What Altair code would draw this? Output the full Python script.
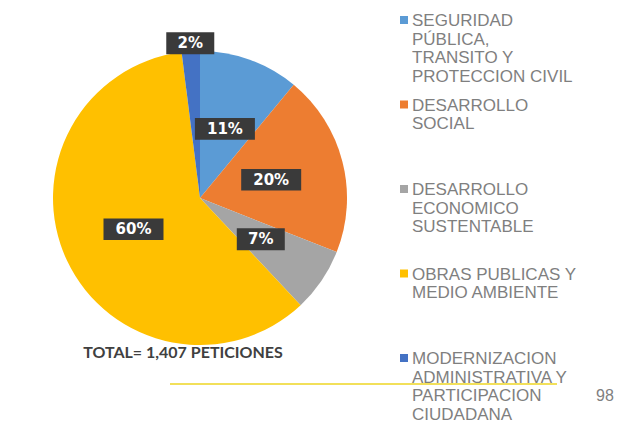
import altair as alt
import pandas as pd

# ---- data ----
categories = [
    "SEGURIDAD PÚBLICA, TRANSITO Y PROTECCION CIVIL",
    "DESARROLLO SOCIAL",
    "DESARROLLO ECONOMICO SUSTENTABLE",
    "OBRAS PUBLICAS Y MEDIO AMBIENTE",
    "MODERNIZACION ADMINISTRATIVA Y PARTICIPACION CIUDADANA",
]
percentages = [11, 20, 7, 60, 2]
legend_lines = [
    ["SEGURIDAD", "PÚBLICA,", "TRANSITO Y", "PROTECCION CIVIL"],
    ["DESARROLLO", "SOCIAL"],
    ["DESARROLLO", "ECONOMICO", "SUSTENTABLE"],
    ["OBRAS PUBLICAS Y", "MEDIO AMBIENTE"],
    ["MODERNIZACION", "ADMINISTRATIVA Y", "PARTICIPACION", "CIUDADANA"],
]
colors = ["#5B9BD5", "#ED7D31", "#A5A5A5", "#FFC000", "#4472C4"]
total_text = "TOTAL= 1,407 PETICIONES"
page_number = "98"

df = pd.DataFrame({
    "cat": categories,
    "pct": percentages,
    "idx": list(range(len(categories))),
    "legend": ["\n".join(l) for l in legend_lines],
})

CX, CY, R = 192, 190, 147
color_scale = alt.Scale(domain=categories, range=colors)
base = alt.Chart(df)

pie = base.mark_arc(outerRadius=R).encode(
    theta=alt.Theta("pct:Q", stack=True),
    color=alt.Color("cat:N", scale=color_scale, legend=None),
    order=alt.Order("idx:Q"),
    x=alt.value(CX),
    y=alt.value(CY),
)

lab = base.transform_joinaggregate(total="sum(pct)").transform_window(
    cum="sum(pct)", sort=[alt.SortField("idx")], frame=[None, 0]
).transform_calculate(
    ang="2*PI*(datum.cum - datum.pct/2)/datum.total",
    rr=f"datum.pct < 5 ? {R + 8} : {R * 0.5}",
    lx=f"{CX} + datum.rr*sin(datum.ang)",
    ly=f"{CY} - datum.rr*cos(datum.ang)",
    txt="datum.pct + '%'",
)
lx = alt.X("lx:Q", scale=None, axis=None)
ly = alt.Y("ly:Q", scale=None, axis=None)

box_wide = lab.transform_filter("datum.pct >= 10").mark_point(
    shape="M-1,-0.36L1,-0.36L1,0.36L-1,0.36Z", size=3600, filled=True,
    color="#3a3a3a", opacity=1, strokeWidth=0,
).encode(x=lx, y=ly)
box_narrow = lab.transform_filter("datum.pct < 10").mark_point(
    shape="M-1,-0.46L1,-0.46L1,0.46L-1,0.46Z", size=2304, filled=True,
    color="#3a3a3a", opacity=1, strokeWidth=0,
).encode(x=lx, y=ly)
pct_text = lab.mark_text(
    font="DejaVu Sans", fontWeight="bold", fontSize=15, color="white",
    align="center", baseline="middle",
).encode(x=lx, y=ly, text="txt:N")

leg_y = alt.Y("cat:N", axis=None,
              scale=alt.Scale(type="point", domain=categories, range=[12, 350], padding=0))
leg_sq = base.mark_square(size=64, opacity=1).encode(
    x=alt.value(396), y=leg_y,
    color=alt.Color("cat:N", scale=color_scale, legend=None),
)
leg_txt = base.mark_text(
    align="left", baseline="alphabetic", dy=6, lineBreak="\n", lineHeight=18.5,
    font="Liberation Sans", fontSize=17, color="#7f7f7f",
).encode(x=alt.value(404), y=leg_y, text="legend:N")

total = alt.Chart(pd.DataFrame({"t": [total_text]})).mark_text(
    font="Lato", fontWeight="bold", fontSize=16, color="#404040",
    align="center", baseline="middle",
).encode(x=alt.value(175), y=alt.value(345), text="t:N")

page = alt.Chart(pd.DataFrame({"t": [page_number]})).mark_text(
    font="Liberation Sans", fontSize=16, color="#7f7f7f",
    align="center", baseline="middle",
).encode(x=alt.value(597), y=alt.value(388), text="t:N")

line = alt.Chart(pd.DataFrame({"a": [0]})).mark_rule(
    color="#f2e05a", strokeWidth=2
).encode(x=alt.value(162), x2=alt.value(549), y=alt.value(376))

chart = alt.layer(
    pie, box_wide, box_narrow, pct_text, line, leg_sq, leg_txt, total, page
).resolve_scale(x="independent", y="independent").properties(
    width=608, height=420, padding=0,
    autosize=alt.AutoSizeParams(type="none"),
).configure_view(stroke=None)

chart.save("out.html", embed_options={"renderer": "svg", "actions": False})
